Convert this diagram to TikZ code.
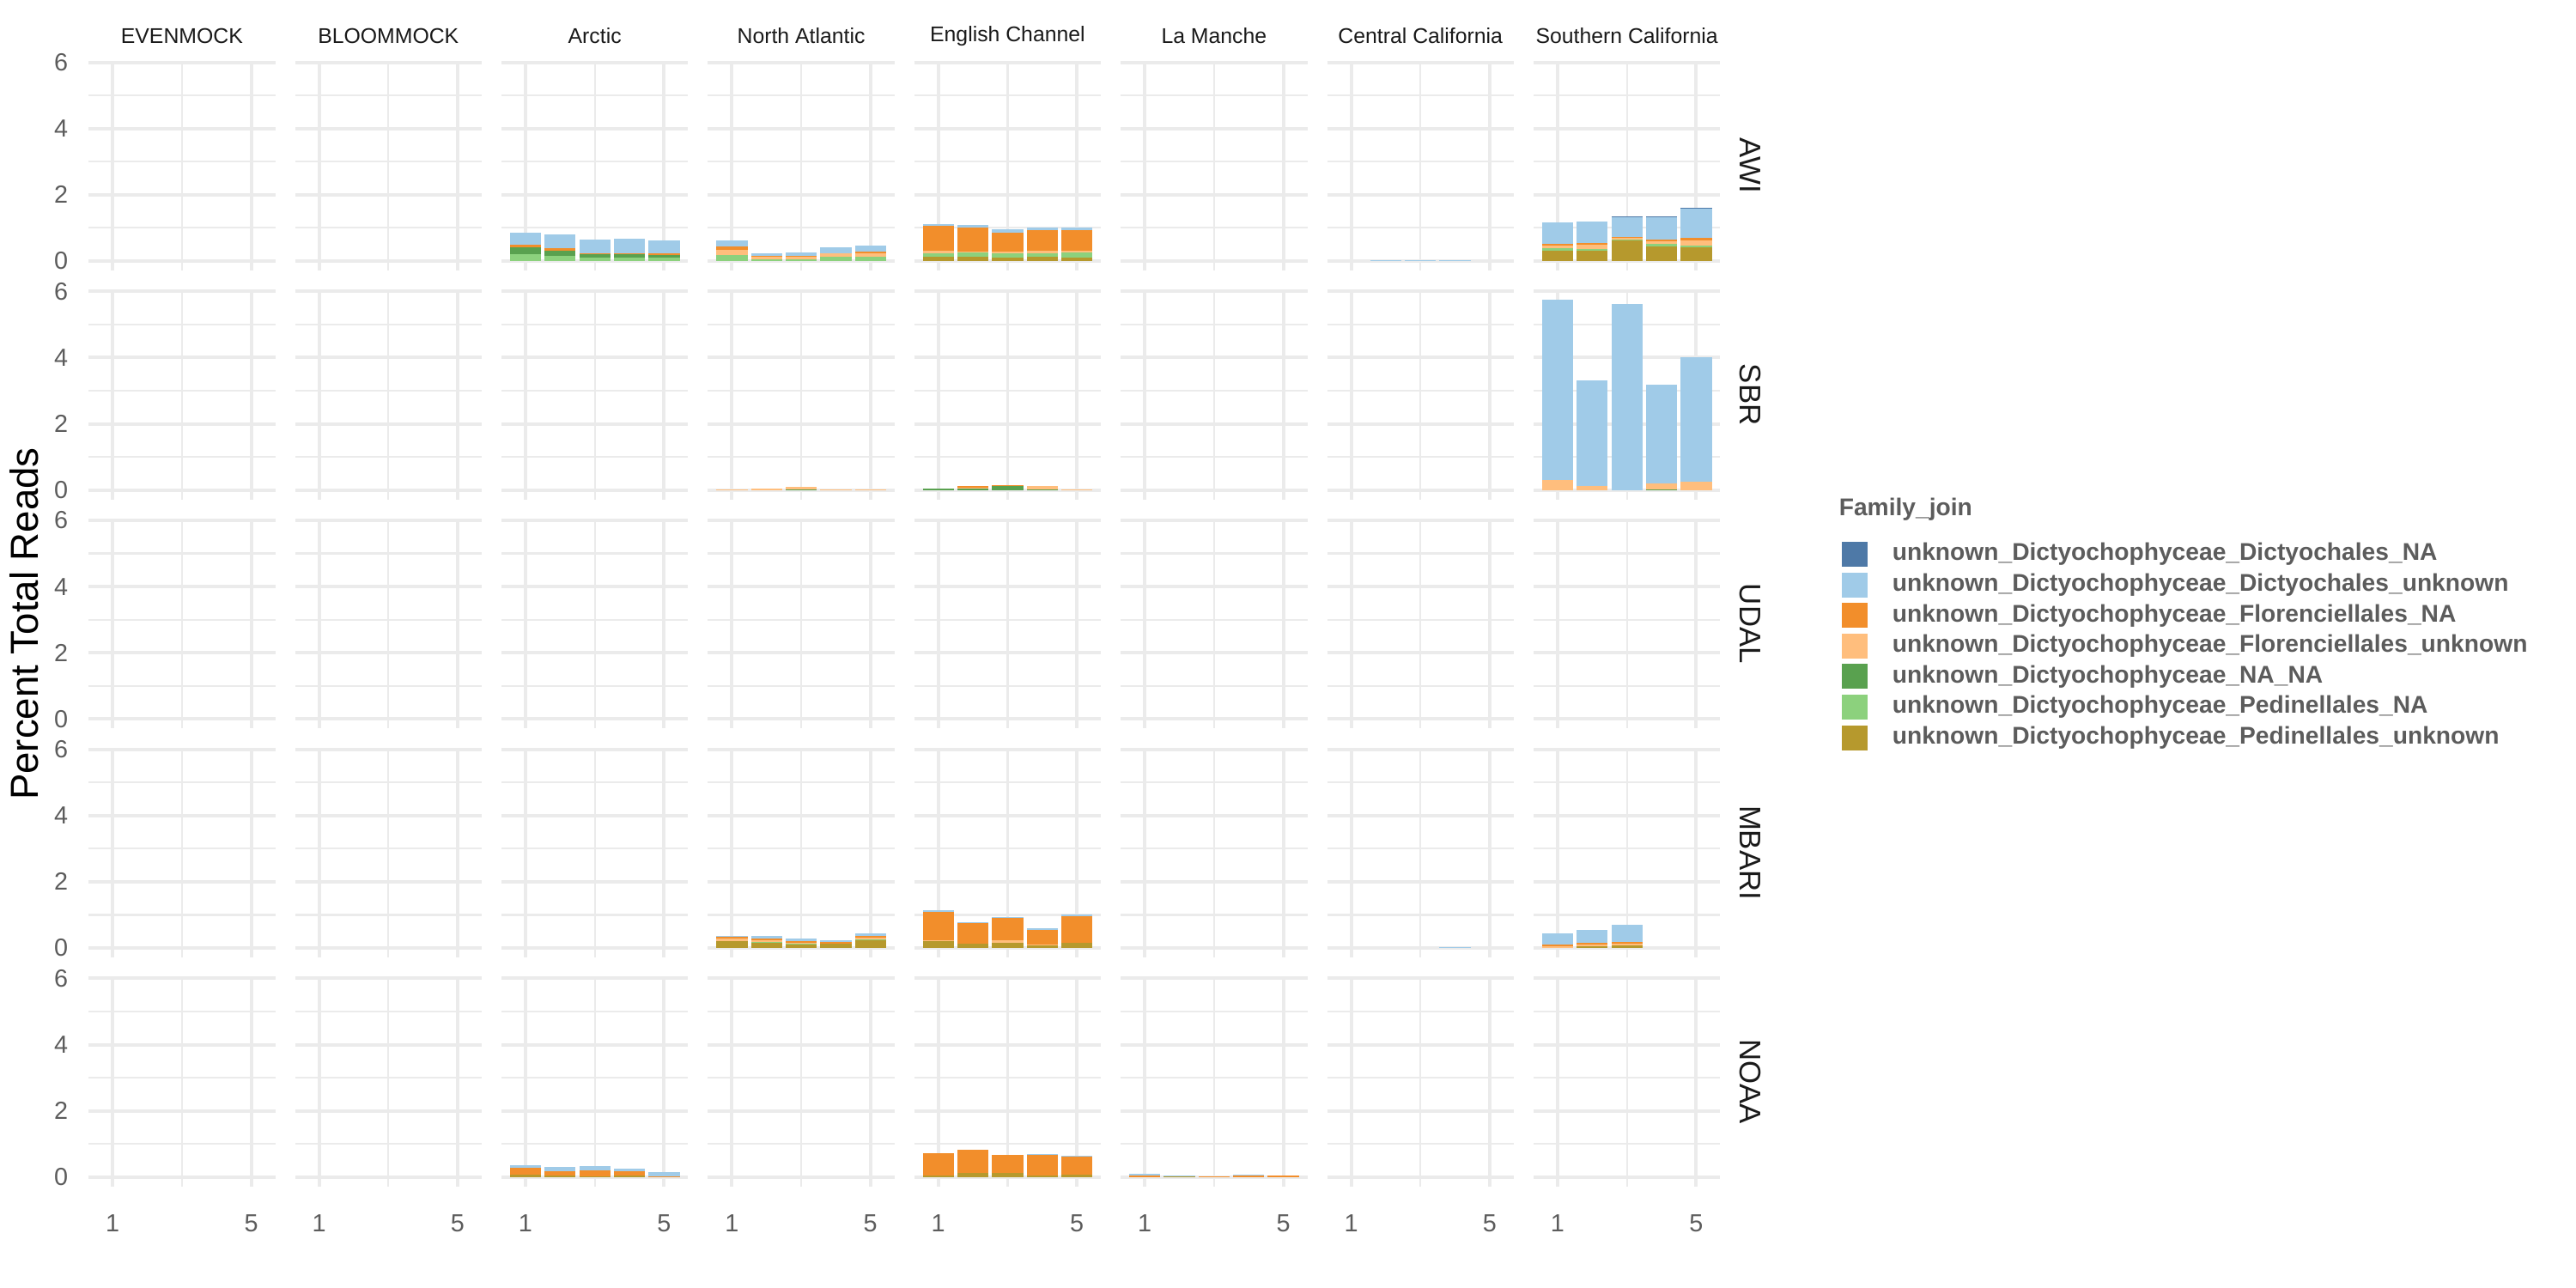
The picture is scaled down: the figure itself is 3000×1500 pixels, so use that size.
\documentclass[tikz,border=0pt]{standalone}
\usepackage{fontspec}
\setmainfont{Liberation Sans}

\definecolor{dictNA}{HTML}{4E79A7}
\definecolor{dictUnk}{HTML}{A0CBE8}
\definecolor{florNA}{HTML}{F28E2B}
\definecolor{florUnk}{HTML}{FFBE7D}
\definecolor{naNA}{HTML}{59A14F}
\definecolor{pediNA}{HTML}{8CD17D}
\definecolor{pediUnk}{HTML}{B6992D}
\definecolor{gridgrey}{HTML}{EBEBEB}
\definecolor{tickgrey}{HTML}{5C5C5C}
\definecolor{stripgrey}{HTML}{1A1A1A}

\tikzset{
  gridmajor/.style={draw=gridgrey, line width=1pt},
  gridminor/.style={draw=gridgrey, line width=0.55pt},
  striplabel/.style={inner sep=0.75pt, text=stripgrey, font=\fontsize{6.2}{7.4}\selectfont},
  rowlabel/.style={inner sep=0.75pt, rotate=-90, text=stripgrey, font=\fontsize{8.7}{10.4}\selectfont},
  ticklabel/.style={inner sep=0.75pt, text=tickgrey, font=\fontsize{7.2}{8.6}\selectfont},
  legendlabel/.style={anchor=west, inner sep=0.75pt, text=tickgrey, font=\bfseries\fontsize{7.05}{8.5}\selectfont},
}

% one stacked bar: column, row, position 1-5, value/colour from the bottom up
\newcommand{\stackbar}[4]{%
  \pgfmathsetmacro{\bx}{103.1+240.4*#1+(#3-0.305)*40.35}%
  \pgfmathsetmacro{\by}{303.9+266.7*#2}%
  \xdef\bbase{0}%
  \foreach \v/\cl in {#4}{%
    \fill[fill=\cl] ({\bx-18.15},{\by-38.55*\bbase}) rectangle ({\bx+18.15},{\by-38.55*(\bbase+\v)});
    \pgfmathsetmacro{\nb}{\bbase+\v}\xdef\bbase{\nb}%
  }%
}

\begin{document}
\begin{tikzpicture}[x=0.25pt,y=0.25pt,yscale=-1,xscale=1]
    \useasboundingbox (0,0) rectangle (3000,1500);
    %Panels: grid lines
    \foreach \col in {0,...,7}{
      \foreach \row in {0,...,4}{
        \pgfmathsetmacro{\pl}{103.1+240.4*\col}
        \pgfmathsetmacro{\pr}{\pl+217.5}
        \pgfmathsetmacro{\pz}{303.9+266.7*\row}
        \foreach \k in {1,3,5}
          \draw[gridminor] (\pl,{\pz-38.55*\k}) -- (\pr,{\pz-38.55*\k});
        \draw[gridminor] ({\pl+108.75},{\pz-232.8}) -- ({\pl+108.75},{\pz+11.1});
        \foreach \k in {0,2,4,6}
          \draw[gridmajor] (\pl,{\pz-38.55*\k}) -- (\pr,{\pz-38.55*\k});
        \foreach \k in {28.04,189.44}
          \draw[gridmajor] ({\pl+\k},{\pz-232.8}) -- ({\pl+\k},{\pz+11.1});
      }
    }

    %Bars: Arctic
    \stackbar{2}{0}{1}{0.205/pediNA,0.205/naNA,0.077/florNA,0.36/dictUnk}
    \stackbar{2}{0}{2}{0.154/pediNA,0.154/naNA,0.077/florNA,0.41/dictUnk}
    \stackbar{2}{0}{3}{0.103/pediNA,0.103/naNA,0.026/florNA,0.41/dictUnk}
    \stackbar{2}{0}{4}{0.103/pediNA,0.103/naNA,0.026/florNA,0.436/dictUnk}
    \stackbar{2}{0}{5}{0.103/pediNA,0.077/naNA,0.051/florNA,0.385/dictUnk}
    \stackbar{2}{4}{1}{0.07/pediUnk,0.209/florNA,0.078/dictUnk}
    \stackbar{2}{4}{2}{0.043/pediUnk,0.13/florNA,0.13/dictUnk}
    \stackbar{2}{4}{3}{0.026/pediUnk,0.174/florNA,0.13/dictUnk}
    \stackbar{2}{4}{4}{0.043/pediUnk,0.13/florNA,0.078/dictUnk}
    \stackbar{2}{4}{5}{0.017/pediUnk,0.01/florNA,0.12/dictUnk}
    %Bars: North Atlantic
    \stackbar{3}{0}{1}{0.18/pediNA,0.154/florUnk,0.103/florNA,0.18/dictUnk}
    \stackbar{3}{0}{2}{0.05/pediNA,0.077/florUnk,0.026/florNA,0.077/dictUnk}
    \stackbar{3}{0}{3}{0.05/pediNA,0.077/florUnk,0.026/florNA,0.1/dictUnk}
    \stackbar{3}{0}{4}{0.128/pediNA,0.103/florUnk,0.18/dictUnk}
    \stackbar{3}{0}{5}{0.128/pediNA,0.103/florUnk,0.05/florNA,0.18/dictUnk}
    \stackbar{3}{1}{1}{0.017/florUnk}
    \stackbar{3}{1}{2}{0.04/florUnk}
    \stackbar{3}{1}{3}{0.026/naNA,0.07/florUnk}
    \stackbar{3}{1}{4}{0.017/florUnk}
    \stackbar{3}{1}{5}{0.017/florUnk}
    \stackbar{3}{3}{1}{0.217/pediUnk,0.06/florUnk,0.05/florNA,0.035/dictUnk}
    \stackbar{3}{3}{2}{0.157/pediUnk,0.026/pediNA,0.052/florUnk,0.052/florNA,0.078/dictUnk}
    \stackbar{3}{3}{3}{0.104/pediUnk,0.017/pediNA,0.035/florUnk,0.052/florNA,0.078/dictUnk}
    \stackbar{3}{3}{4}{0.13/pediUnk,0.052/florNA,0.052/dictUnk}
    \stackbar{3}{3}{5}{0.235/pediUnk,0.026/pediNA,0.052/florUnk,0.052/florNA,0.078/dictUnk}
    %Bars: English Channel
    \stackbar{4}{0}{1}{0.128/pediUnk,0.103/pediNA,0.077/florUnk,0.744/florNA,0.05/dictUnk}
    \stackbar{4}{0}{2}{0.128/pediUnk,0.128/pediNA,0.026/florUnk,0.718/florNA,0.077/dictUnk}
    \stackbar{4}{0}{3}{0.103/pediUnk,0.128/pediNA,0.05/florUnk,0.564/florNA,0.103/dictUnk}
    \stackbar{4}{0}{4}{0.128/pediUnk,0.103/pediNA,0.077/florUnk,0.615/florNA,0.077/dictUnk}
    \stackbar{4}{0}{5}{0.103/pediUnk,0.154/pediNA,0.05/florUnk,0.615/florNA,0.077/dictUnk}
    \stackbar{4}{1}{1}{0.043/naNA}
    \stackbar{4}{1}{2}{0.043/naNA,0.026/florUnk,0.05/florNA}
    \stackbar{4}{1}{3}{0.13/naNA,0.017/florNA}
    \stackbar{4}{1}{4}{0.017/naNA,0.1/florUnk}
    \stackbar{4}{1}{5}{0.017/florUnk}
    \stackbar{4}{3}{1}{0.21/pediUnk,0.026/florUnk,0.86/florNA,0.052/dictUnk}
    \stackbar{4}{3}{2}{0.13/pediUnk,0.61/florNA,0.026/dictUnk}
    \stackbar{4}{3}{3}{0.157/pediUnk,0.078/florUnk,0.678/florNA,0.026/dictUnk}
    \stackbar{4}{3}{4}{0.078/pediUnk,0.026/florUnk,0.443/florNA,0.052/dictUnk}
    \stackbar{4}{3}{5}{0.157/pediUnk,0.809/florNA,0.052/dictUnk}
    \stackbar{4}{4}{1}{0.043/pediUnk,0.678/florNA}
    \stackbar{4}{4}{2}{0.12/pediUnk,0.7/florNA}
    \stackbar{4}{4}{3}{0.12/pediUnk,0.55/florNA}
    \stackbar{4}{4}{4}{0.043/pediUnk,0.626/florNA,0.035/dictUnk}
    \stackbar{4}{4}{5}{0.07/pediUnk,0.548/florNA,0.026/dictUnk}
    %Bars: La Manche
    \stackbar{5}{4}{1}{0.043/florNA,0.052/dictUnk}
    \stackbar{5}{4}{2}{0.017/pediUnk,0.026/dictUnk}
    \stackbar{5}{4}{3}{0.026/florNA}
    \stackbar{5}{4}{4}{0.043/florNA,0.026/dictUnk}
    \stackbar{5}{4}{5}{0.043/florNA}
    %Bars: Central California
    \stackbar{6}{0}{2}{0.02/dictUnk}
    \stackbar{6}{0}{3}{0.02/dictUnk}
    \stackbar{6}{0}{4}{0.02/dictUnk}
    \stackbar{6}{3}{4}{0.02/dictUnk}
    %Bars: Southern California
    \stackbar{7}{0}{1}{0.31/pediUnk,0.078/pediNA,0.078/florUnk,0.052/florNA,0.647/dictUnk}
    \stackbar{7}{0}{2}{0.31/pediUnk,0.052/pediNA,0.129/florUnk,0.052/florNA,0.647/dictUnk}
    \stackbar{7}{0}{3}{0.62/pediUnk,0.026/pediNA,0.052/florUnk,0.026/florNA,0.595/dictUnk,0.026/dictNA}
    \stackbar{7}{0}{4}{0.44/pediUnk,0.078/pediNA,0.078/florUnk,0.052/florNA,0.672/dictUnk,0.026/dictNA}
    \stackbar{7}{0}{5}{0.414/pediUnk,0.052/pediNA,0.155/florUnk,0.078/florNA,0.879/dictUnk,0.026/dictNA}
    \stackbar{7}{1}{1}{0.3/florUnk,5.45/dictUnk}
    \stackbar{7}{1}{2}{0.13/florUnk,3.18/dictUnk}
    \stackbar{7}{1}{3}{5.62/dictUnk}
    \stackbar{7}{1}{4}{0.026/naNA,0.173/florUnk,2.98/dictUnk}
    \stackbar{7}{1}{5}{0.25/florUnk,3.76/dictUnk}
    \stackbar{7}{3}{1}{0.052/florUnk,0.052/florNA,0.34/dictUnk}
    \stackbar{7}{3}{2}{0.052/pediUnk,0.052/florUnk,0.052/florNA,0.39/dictUnk}
    \stackbar{7}{3}{3}{0.078/pediUnk,0.052/florUnk,0.052/florNA,0.52/dictUnk}

    % Text Node: column strips
    \foreach \col/\site in {0/EVENMOCK,1/BLOOMMOCK,2/Arctic,3/North Atlantic,4/English Channel,5/La Manche,6/Central California,7/Southern California}
      \node[striplabel] (strip\col) at ({103.1+240.4*\col+108.75},42) {\site};
    % Text Node: row strips
    \foreach \row/\lab in {0/AWI,1/SBR,2/UDAL,3/MBARI,4/NOAA}
      \node[rowlabel] (rowlab\row) at (2038,{303.9+266.7*\row-110.9}) {\lab};
    % Text Node: y ticks
    \foreach \row in {0,...,4}
      \foreach \k in {0,2,4,6}
        \node[ticklabel, anchor=east] (ytick\row\k) at (83,{303.9+266.7*\row-38.55*\k}) {\k};
    % Text Node: x ticks
    \foreach \col in {0,...,7}{
      \node[ticklabel] (xtickA\col) at ({103.1+240.4*\col+28.04},1425) {1};
      \node[ticklabel] (xtickB\col) at ({103.1+240.4*\col+189.44},1425) {5};
    }
    % Text Node: axis title
    \node[inner sep=0.75pt, rotate=90, font=\fontsize{11.4}{13.7}\selectfont] (ytitle) at (28,726.6) {Percent Total Reads};

    % Legend
    \node[legendlabel] (legtitle) at (2138,593) {Family\_join};
    \foreach \i/\cl/\lab in {0/dictNA/unknown\_Dictyochophyceae\_Dictyochales\_NA,
                             1/dictUnk/unknown\_Dictyochophyceae\_Dictyochales\_unknown,
                             2/florNA/unknown\_Dictyochophyceae\_Florenciellales\_NA,
                             3/florUnk/unknown\_Dictyochophyceae\_Florenciellales\_unknown,
                             4/naNA/unknown\_Dictyochophyceae\_NA\_NA,
                             5/pediNA/unknown\_Dictyochophyceae\_Pedinellales\_NA,
                             6/pediUnk/unknown\_Dictyochophyceae\_Pedinellales\_unknown}{
      \fill[fill=\cl] (2145,{645.5+35.6*\i-14.5}) rectangle (2175,{645.5+35.6*\i+14.5});
      \node[legendlabel] (leg\i) at (2200,{645.5+35.6*\i}) {\lab};
    }
\end{tikzpicture}
\end{document}
